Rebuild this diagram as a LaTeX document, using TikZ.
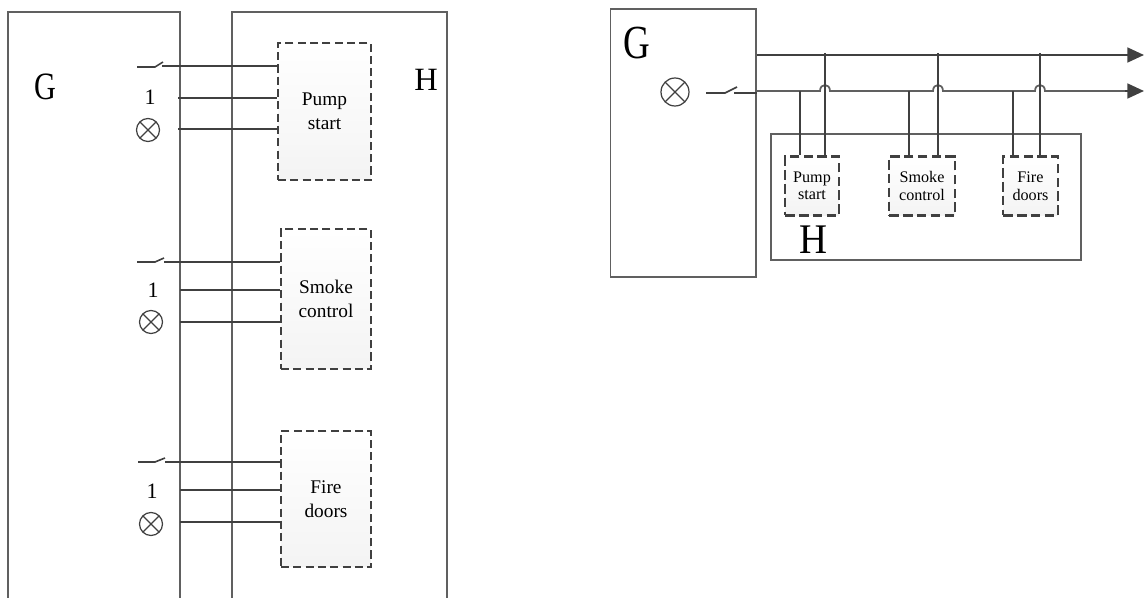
\documentclass[tikz,border=0pt]{standalone}
\usepackage{fontspec}
\setmainfont{Liberation Serif}
\usetikzlibrary{calc, positioning, arrows.meta}
\definecolor{wirecol}{HTML}{404040}
\definecolor{framecol}{HTML}{606060}
\tikzset{
  frame/.style={draw=framecol, line width=.8pt},
  wire/.style={draw=wirecol, line width=1.15pt},
  thinwire/.style={draw=framecol, line width=1pt},
  unit/.style={draw=wirecol, line width=1.4pt, top color=white, bottom color=gray!9, inner sep=0pt, align=center},
  bigunit/.style={unit, dash pattern=on 4.6pt off 2.4pt, font=\fontsize{11}{13.5}\selectfont},
  smallunit/.style={unit, dash pattern=on 5.5pt off 2.4pt, font=\fontsize{9.2}{10}\selectfont},
  lamp/.style={circle, draw=wirecol, line width=.7pt, inner sep=0pt, path picture={
    \draw [wirecol, line width=.7pt] (path picture bounding box.north west) -- (path picture bounding box.south east);
    \draw [wirecol, line width=.7pt] (path picture bounding box.north east) -- (path picture bounding box.south west);}},
}

\begin{document}
\begin{tikzpicture}[x=.02cm, y=-.02cm, >={Triangle[length=9.5pt, width=8.5pt]}]
  \useasboundingbox (0,0) rectangle (1144,598);
  % left side
  \draw [frame] (8,598) -- (8,12) -- (180,12) -- (180,598);
  \draw [frame] (232,598) -- (232,12) -- (447,12) -- (447,598);
  \node (gleft) at (45,87) {\fontsize{22}{22}\selectfont\scalebox{.78}[1]{G}};
  \node (hleft) at (426,80) {\fontsize{18.5}{18.5}\selectfont H};

  \node (pump) at (324.5,111.5) [bigunit, minimum width=1.86cm, minimum height=2.74cm] {Pump\\start};
  \node (smoke) at (326,299) [bigunit, minimum width=1.8cm, minimum height=2.8cm] {Smoke\\control};
  \node (fire) at (326,499) [bigunit, minimum width=1.8cm, minimum height=2.72cm] {Fire\\doors};

  \node (onea) at (150,97) {\fontsize{12.5}{12.5}\selectfont 1};
  \node (oneb) at (153,290) {\fontsize{12.5}{12.5}\selectfont 1};
  \node (onec) at (152,491) {\fontsize{12.5}{12.5}\selectfont 1};
  \node (lampa) at (148,130) [lamp, minimum size=.46cm] {};
  \node (lampb) at (151,322) [lamp, minimum size=.46cm] {};
  \node (lampc) at (151,524) [lamp, minimum size=.46cm] {};

  \coordinate (swa) at (137,67);
  \coordinate (swb) at (137,262);
  \coordinate (swc) at (138,462);
  \draw [wire, line width=.9pt] (swa) -- (155,67) -- (163,62);
  \draw [wire, line width=.9pt] (swb) -- (155,262) -- (164,258);
  \draw [wire, line width=.9pt] (swc) -- (155,462) -- (165,458);
  \draw [wire] (162,66) -- (162,66 -| pump.west);
  \draw [wire] (164,262) -- (164,262 -| smoke.west);
  \draw [wire] (165,462) -- (165,462 -| fire.west);
  \draw [wire] (178,98) -- (178,98 -| pump.west);
  \draw [wire] (178,129) -- (178,129 -| pump.west);
  \draw [wire] (180,290) -- (180,290 -| smoke.west);
  \draw [wire] (180,322) -- (180,322 -| smoke.west);
  \draw [wire] (180,490) -- (180,490 -| fire.west);
  \draw [wire] (180,522) -- (180,522 -| fire.west);

  % right side
  \node (gbox) at (683.25,143) [frame, minimum width=2.91cm, minimum height=5.36cm, inner sep=0pt] {};
  \node (hbox) at (926,197) [frame, minimum width=6.2cm, minimum height=2.52cm, inner sep=0pt] {};
  \node (gright) at (637,43) {\fontsize{27}{27}\selectfont\scalebox{.78}[1]{G}};
  \node (hright) at (814,240) {\fontsize{24}{24}\selectfont\scalebox{.92}[1]{H}};
  \node (lampd) at (675,92) [lamp, minimum size=.56cm] {};

  \node (pumps) at (812,186) [smallunit, minimum width=1.08cm, minimum height=1.18cm] {Pump\\start};
  \node (smokes) at (922,186) [smallunit, minimum width=1.32cm, minimum height=1.18cm] {Smoke\\control};
  \node (fires) at (1030.5,186) [smallunit, minimum width=1.1cm, minimum height=1.18cm] {Fire\\doors};

  \coordinate (swd) at (706,93);
  \coordinate (topend) at (1144,55);
  \coordinate (lowend) at (1144,91);
  \draw [wire, line width=.9pt] (swd) -- (725,93) -- (737,87);
  \draw [wire] (734,93) -- (gbox.east |- 0,93);
  \draw [wire, ->] (gbox.east |- topend) -- (topend);
  \draw [thinwire] (gbox.east |- lowend) -- (820,91) .. controls (820,83) and (830,83) .. (830,91)
    -- (933,91) .. controls (933,83) and (943,83) .. (943,91)
    -- (1035,91) .. controls (1035,83) and (1045,83) .. (1045,91) -- (1132,91);
  \draw [wire, ->] (1125,91) -- (lowend);

  \draw [wire] (800,91) -- (800,91 |- pumps.north);
  \draw [wire] (825,53) -- (825,53 |- pumps.north);
  \draw [wire] (909,91) -- (909,91 |- smokes.north);
  \draw [wire] (938,53) -- (938,53 |- smokes.north);
  \draw [wire] (1013,91) -- (1013,91 |- fires.north);
  \draw [wire] (1040,53) -- (1040,53 |- fires.north);
\end{tikzpicture}
\end{document}
